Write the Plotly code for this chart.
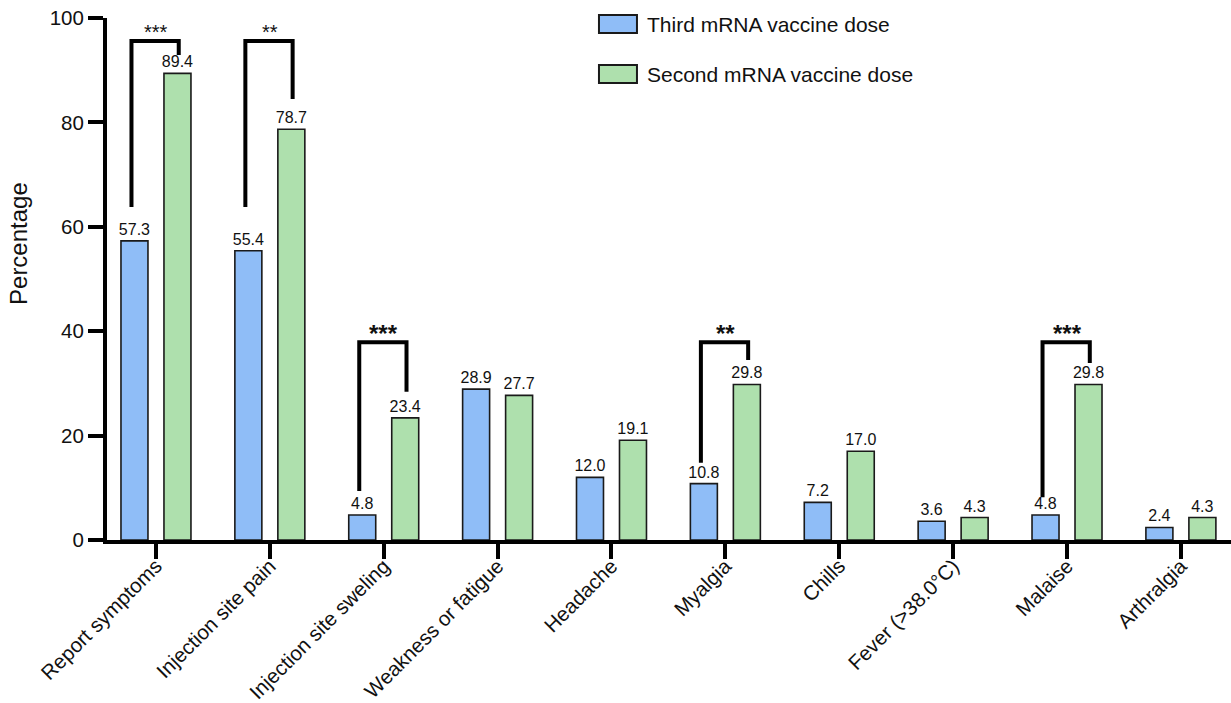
import plotly.graph_objects as go

categories = ["Report symptoms", "Injection site pain", "Injection site sweling",
              "Weakness or fatigue", "Headache", "Myalgia", "Chills",
              "Fever (>38.0°C)", "Malaise", "Arthralgia"]
third_dose = [57.3, 55.4, 4.8, 28.9, 12.0, 10.8, 7.2, 3.6, 4.8, 2.4]
second_dose = [89.4, 78.7, 23.4, 27.7, 19.1, 29.8, 17.0, 4.3, 29.8, 4.3]
series_names = ["Third mRNA vaccine dose", "Second mRNA vaccine dose"]
y_ticks = [0, 20, 40, 60, 80, 100]

# significance brackets: category index, left leg bottom, top, right leg bottom, label
bracket_idx = [0, 1, 2, 5, 8]
bracket_left = [63.8, 63.8, 9.4, 14.8, 8.2]
bracket_top = [95.6, 95.6, 37.9, 37.9, 37.9]
bracket_right = [92.9, 84.5, 28.4, 34.5, 33.9]
bracket_label = ["***", "**", "***", "**", "***"]
bracket_bold = [False, False, True, True, True]

FONT = "Arial, Liberation Sans, sans-serif"
BLUE = "#8fbdf7"
GREEN = "#aee0ad"
EDGE = "#1a1a1a"

idx = list(range(len(categories)))
fig = go.Figure()
for name, vals, col in [(series_names[0], third_dose, BLUE), (series_names[1], second_dose, GREEN)]:
    fig.add_trace(go.Bar(
        x=idx, y=vals, name=name, marker=dict(color=col, line=dict(color=EDGE, width=1.6)),
        text=[f"{v:.1f}" for v in vals], textposition="outside", cliponaxis=False,
        constraintext="none",
        textfont=dict(family=FONT, size=16, color="#111"), showlegend=False))

for i, lb, tp, rb, lab, bold in zip(bracket_idx, bracket_left, bracket_top, bracket_right, bracket_label, bracket_bold):
    fig.add_trace(go.Scatter(
        x=[i - 0.215, i - 0.215, i + 0.2, i + 0.2], y=[lb, tp, tp, rb], mode="lines",
        line=dict(color="black", width=4), showlegend=False, hoverinfo="skip", cliponaxis=False))
    fig.add_annotation(x=i, y=tp, yref="y", xref="x", text=f"<b>{lab}</b>" if bold else lab,
                       showarrow=False, yanchor="bottom", yshift=-7 if bold else -4,
                       font=dict(family=FONT, size=24 if bold else 20, color="#111"))

# manual legend
leg_rows = [(0.9885, BLUE), (0.8927, GREEN)]
for (yc, col), name in zip(leg_rows, series_names):
    fig.add_shape(type="rect", xref="paper", yref="paper", x0=0.4377, x1=0.4715,
                  y0=yc - 0.0172, y1=yc + 0.0172, fillcolor=col, line=dict(color=EDGE, width=2))
    fig.add_annotation(xref="paper", yref="paper", x=0.4786, y=yc, text=name, showarrow=False,
                       xanchor="left", yanchor="middle", font=dict(family=FONT, size=21, color="#111"))

fig.add_annotation(xref="paper", yref="paper", x=-0.0783, y=0.569, text="Percentage",
                   textangle=-90, showarrow=False, xanchor="center", yanchor="middle",
                   font=dict(family=FONT, size=24, color="#111"))

fig.update_layout(
    width=1231, height=703, margin=dict(l=107, r=0, t=18, b=163, autoexpand=False),
    plot_bgcolor="white", paper_bgcolor="white", barmode="group",
    bargap=0.245, bargroupgap=0.372, font=dict(family=FONT, color="#111"),
    xaxis=dict(range=[-0.43, 9.44], tickvals=idx, ticktext=categories, tickangle=-45,
               automargin=False, ticklabelstandoff=-13,
               showgrid=False, zeroline=False, showline=True, linecolor="black", linewidth=4,
               ticks="outside", ticklen=15, tickwidth=4, tickcolor="black",
               tickfont=dict(family=FONT, size=20.5, color="#111")),
    yaxis=dict(range=[0, 100], tickvals=y_ticks, showgrid=False, zeroline=False, automargin=False,
               showline=True, linecolor="black", linewidth=4, ticks="outside", ticklen=15,
               tickwidth=4, tickcolor="black", tickfont=dict(family=FONT, size=20.5, color="#111")),
)
fig.write_html("out.html", config={"displayModeBar": False},
               post_script="document.body.style.margin='0px';document.body.style.overflow='hidden';")
